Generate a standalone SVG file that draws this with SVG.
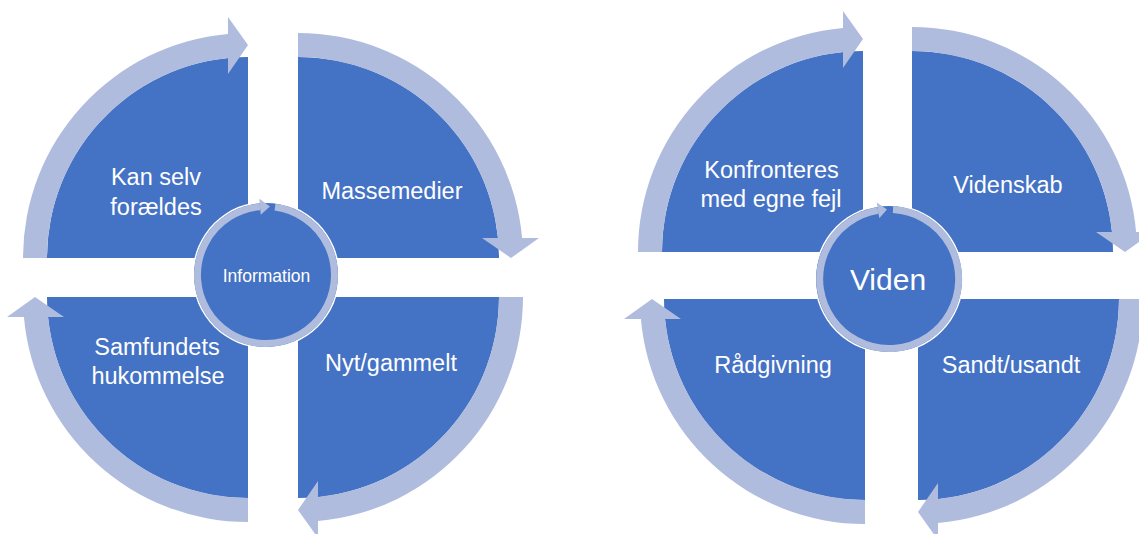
<svg xmlns="http://www.w3.org/2000/svg" xmlns:xlink="http://www.w3.org/1999/xlink" width="1139" height="534" viewBox="0 0 1139 534">
<style>
.q{fill:#4472C4}
.ring{fill:#AFBCDE}
.cring{fill:none;stroke:#AFBCDE;stroke-width:7}
.ah{fill:#AFBCDE}
.lbl{font-family:"Liberation Sans",Arial,sans-serif;font-size:23.5px;fill:#FFFFFF;text-anchor:middle}
</style>
<defs>
<path id="quad" d="M0,0 L-201,0 A201,201 0 0 1 0,-201 Z"/>
<path id="arc" d="M-225,0 L-201,0 A201,201 0 0 1 -20,-200 L-20,-184 L0,-213 L-20,-241 L-20,-224.1 A225,225 0 0 0 -225,0 Z"/>
</defs>
<rect x="0" y="0" width="1139" height="534" fill="#FFFFFF"/>

<g id="left-diagram">
<g id="n-kan-selv">
<use xlink:href="#quad" class="q" transform="translate(248,258)"/>
<text class="lbl" x="156" y="185">Kan selv</text>
<text class="lbl" x="156" y="214.5">forældes</text>
</g>
<g id="n-massemedier">
<use xlink:href="#quad" class="q" transform="translate(298,258) rotate(90)"/>
<text class="lbl" x="392" y="198.5">Massemedier</text>
</g>
<g id="n-nyt-gammelt">
<use xlink:href="#quad" class="q" transform="translate(298,297) rotate(180)"/>
<text class="lbl" x="391" y="371">Nyt/gammelt</text>
</g>
<g id="n-samfundets">
<use xlink:href="#quad" class="q" transform="translate(248,297) rotate(270)"/>
<text class="lbl" x="157" y="355">Samfundets</text>
<text class="lbl" x="158" y="384">hukommelse</text>
</g>
</g>

<g id="right-diagram">
<g id="n-konfronteres">
<use xlink:href="#quad" class="q" transform="translate(863,252)"/>
<text class="lbl" x="771.5" y="178">Konfronteres</text>
<text class="lbl" x="771" y="207">med egne fejl</text>
</g>
<g id="n-videnskab">
<use xlink:href="#quad" class="q" transform="translate(912,252) rotate(90)"/>
<text class="lbl" x="1008" y="193">Videnskab</text>
</g>
<g id="n-sandt">
<use xlink:href="#quad" class="q" transform="translate(918,299) rotate(180)"/>
<text class="lbl" x="1011" y="373">Sandt/usandt</text>
</g>
<g id="n-raadgivning">
<use xlink:href="#quad" class="q" transform="translate(865,299) rotate(270)"/>
<text class="lbl" x="773" y="373">Rådgivning</text>
</g>
</g>

<g id="connectors">
<use xlink:href="#arc" class="ring" transform="translate(248,258)"/>
<use xlink:href="#arc" class="ring" transform="translate(298,258) rotate(90)"/>
<use xlink:href="#arc" class="ring" transform="translate(298,297) rotate(180)"/>
<use xlink:href="#arc" class="ring" transform="translate(248,297) rotate(270)"/>
<use xlink:href="#arc" class="ring" transform="translate(863,252)"/>
<use xlink:href="#arc" class="ring" transform="translate(912,252) rotate(90)"/>
<use xlink:href="#arc" class="ring" transform="translate(918,299) rotate(180)"/>
<use xlink:href="#arc" class="ring" transform="translate(865,299) rotate(270)"/>
</g>

<g id="n-information">
<circle cx="266" cy="275" r="73.5" fill="#FFFFFF"/>
<circle cx="266" cy="275" r="72" class="q"/>
<path class="cring" d="M275,207.1 A68.5,68.5 0 1 1 260,206.76"/>
<polygon class="ah" points="260.72,214.73 269.95,206.61 259.33,198.79"/>
<text x="266.5" y="281.5" font-family="Liberation Sans, Arial, sans-serif" font-size="17.5" fill="#FFFFFF" text-anchor="middle">Information</text>
</g>

<g id="n-viden">
<circle cx="889" cy="279" r="74.5" fill="#FFFFFF"/>
<circle cx="889" cy="279" r="73" class="q"/>
<path class="cring" d="M893,209.6 A69.5,69.5 0 1 1 878,210.4"/>
<polygon class="ah" points="879.27,218.28 887,209.5 876.74,202.48"/>
<text x="888" y="289.5" font-family="Liberation Sans, Arial, sans-serif" font-size="30" fill="#FFFFFF" text-anchor="middle">Viden</text>
</g>
</svg>
